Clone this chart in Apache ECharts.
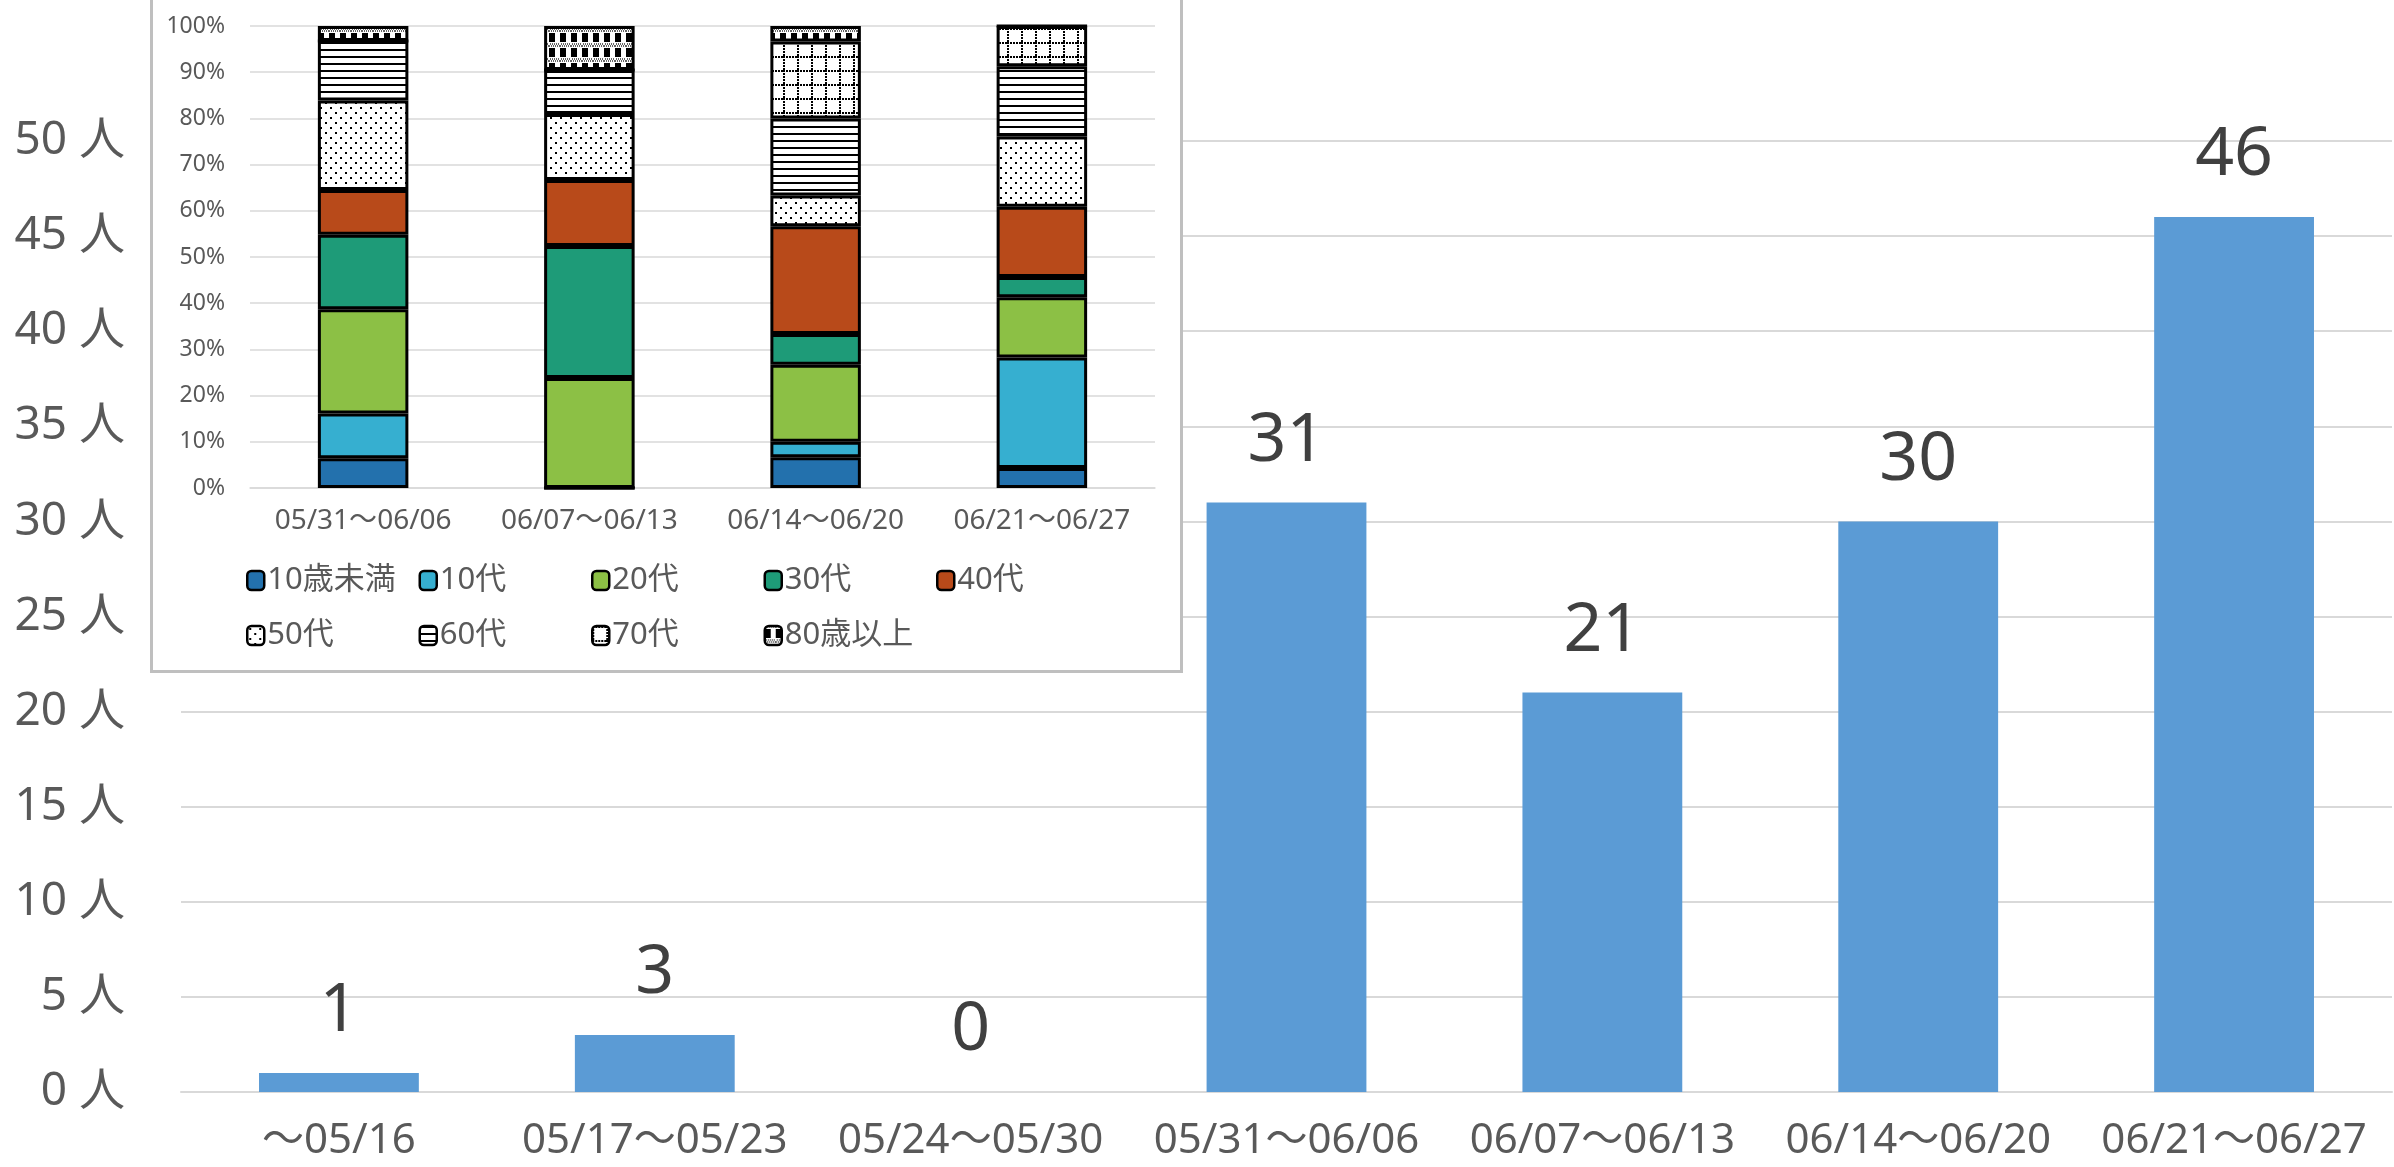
<!DOCTYPE html>
<html>
<head>
<meta charset="utf-8">
<script src="https://cdn.jsdelivr.net/npm/echarts@6/dist/echarts.min.js"></script>
<style>
  html, body { margin: 0; padding: 0; background: #fff; }
  #main { position: absolute; left: 0; top: 0; width: 2394px; height: 1167px; }
  #inset {
    position: absolute; left: 150px; top: -3px; width: 1033px; height: 676px;
    box-sizing: border-box; border: 3px solid #bfbfbf; background: #fff;
  }
</style>
</head>
<body>
<div id="main"></div>
<div id="inset"></div>
<script>
// Weekly case counts
const weeks = ['〜05/16', '05/17〜05/23', '05/24〜05/30', '05/31〜06/06', '06/07〜06/13', '06/14〜06/20', '06/21〜06/27'];
const weeklyCases = [1, 3, 0, 31, 21, 30, 46];
const countTicks = [0, 5, 10, 15, 20, 25, 30, 35, 40, 45, 50];

// Age breakdown of the last four weeks (persons per age group)
const ageWeeks = ['05/31〜06/06', '06/07〜06/13', '06/14〜06/20', '06/21〜06/27'];
const ageGroups = ['10歳未満', '10代', '20代', '30代', '40代', '50代', '60代', '70代', '80歳以上'];
const under10 = [2, 0, 2, 2];
const teens = [3, 0, 1, 11];
const twenties = [7, 5, 5, 6];
const thirties = [5, 6, 2, 2];
const forties = [3, 3, 7, 7];
const fifties = [6, 3, 2, 7];
const sixties = [4, 2, 5, 7];
const seventies = [0, 0, 5, 4];
const over80 = [1, 2, 1, 0];
const percentTicks = [0, 10, 20, 30, 40, 50, 60, 70, 80, 90, 100];

const FONT = "'Noto Sans', 'Noto Sans CJK JP', sans-serif";

// ---------- main weekly chart ----------
const main = echarts.init(document.getElementById('main'));
main.setOption({
  animation: false,
  grid: { left: 181, right: 2, top: 141, bottom: 75 },
  xAxis: {
    type: 'category',
    data: weeks,
    axisLine: { lineStyle: { color: '#d9d9d9', width: 2 } },
    axisTick: { show: false },
    axisLabel: { color: '#595959', fontSize: 42, fontFamily: FONT, margin: 28, interval: 0 }
  },
  yAxis: {
    type: 'value',
    min: countTicks[0],
    max: countTicks[countTicks.length - 1],
    interval: countTicks[1] - countTicks[0],
    axisLine: { show: false },
    axisTick: { show: false },
    splitLine: { lineStyle: { color: '#d9d9d9', width: 2 } },
    axisLabel: { color: '#595959', fontSize: 46, fontFamily: FONT, margin: 56, formatter: '{value} 人' }
  },
  series: [{
    type: 'bar',
    data: weeklyCases,
    barWidth: '50.6%',
    itemStyle: { color: '#5b9bd5' },
    label: {
      show: true, position: 'top', distance: 27,
      color: '#404040', fontSize: 68, lineHeight: 68, fontFamily: FONT
    }
  }]
});

// ---------- inset: age composition ----------
function pattern(w, h, draw) {
  const c = document.createElement('canvas');
  c.width = w; c.height = h;
  const g = c.getContext('2d');
  g.fillStyle = '#fff';
  g.fillRect(0, 0, w, h);
  g.fillStyle = '#000';
  draw(g, w, h);
  return { image: c, repeat: 'repeat' };
}
const dots = pattern(10, 10, g => { g.fillRect(2, 2, 2, 2); g.fillRect(7, 7, 2, 2); });
const hLines = pattern(4, 7, g => { g.fillRect(0, 0, 4, 2); });
const dottedGrid = pattern(14, 14, (g, w, h) => {
  for (let x = 0; x < w; x += 3) g.fillRect(x, 0, 2, 2);
  for (let y = 0; y < h; y += 3) g.fillRect(0, y, 2, 2);
});
const checks = pattern(11, 15, (g, w) => {
  g.fillStyle = '#666';
  for (let x = 0; x < w; x += 2) g.fillRect(x, 0, 1, 2);
  for (let x = 1; x < w; x += 2) g.fillRect(x, 13, 1, 2);
  g.fillStyle = '#000';
  g.fillRect(0, 3, 6, 9);
});

const groupCounts = [under10, teens, twenties, thirties, forties, fifties, sixties, seventies, over80];
const groupFills = ['#2371ad', '#36afd0', '#8cc045', '#1e9b78', '#b84a1a', dots, hLines, dottedGrid, checks];
const weekTotals = ageWeeks.map((_, i) => groupCounts.reduce((s, arr) => s + arr[i], 0));

const insetSeries = ageGroups.map((name, k) => ({
  name,
  type: 'bar',
  stack: 'age',
  barWidth: '40%',
  data: groupCounts[k].map((v, i) => v / weekTotals[i] * 100),
  itemStyle: { color: groupFills[k], borderColor: '#000', borderWidth: 3 }
}));

// one legend box per item so the entries sit in fixed columns
const legends = ageGroups.map((name, k) => ({
  data: [name],
  left: 93 + (k % 5) * 172.5,
  top: k < 5 ? 565 : 620,
  padding: 0,
  itemWidth: 17,
  itemHeight: 19,
  itemGap: 6,
  icon: 'roundRect',
  itemStyle: { borderColor: '#000', borderWidth: 2.5 },
  textStyle: { color: '#595959', fontSize: 31, fontFamily: FONT, padding: [0, 0, 0, -2] }
}));

const inset = echarts.init(document.getElementById('inset'));
inset.setOption({
  animation: false,
  legend: legends,
  grid: { left: 97, right: 25, top: 26, bottom: 182 },
  xAxis: {
    type: 'category',
    data: ageWeeks,
    axisLine: { lineStyle: { color: '#d9d9d9', width: 1.5 } },
    axisTick: { show: false },
    axisLabel: { color: '#595959', fontSize: 28, fontFamily: FONT, margin: 19, interval: 0 }
  },
  yAxis: {
    type: 'value',
    min: percentTicks[0],
    max: percentTicks[percentTicks.length - 1],
    interval: percentTicks[1] - percentTicks[0],
    axisLine: { show: false },
    axisTick: { show: false },
    splitLine: { lineStyle: { color: '#d9d9d9', width: 1.5 } },
    axisLabel: { color: '#595959', fontSize: 23, fontFamily: FONT, margin: 25, formatter: '{value}%' }
  },
  series: insetSeries
});
</script>
</body>
</html>
